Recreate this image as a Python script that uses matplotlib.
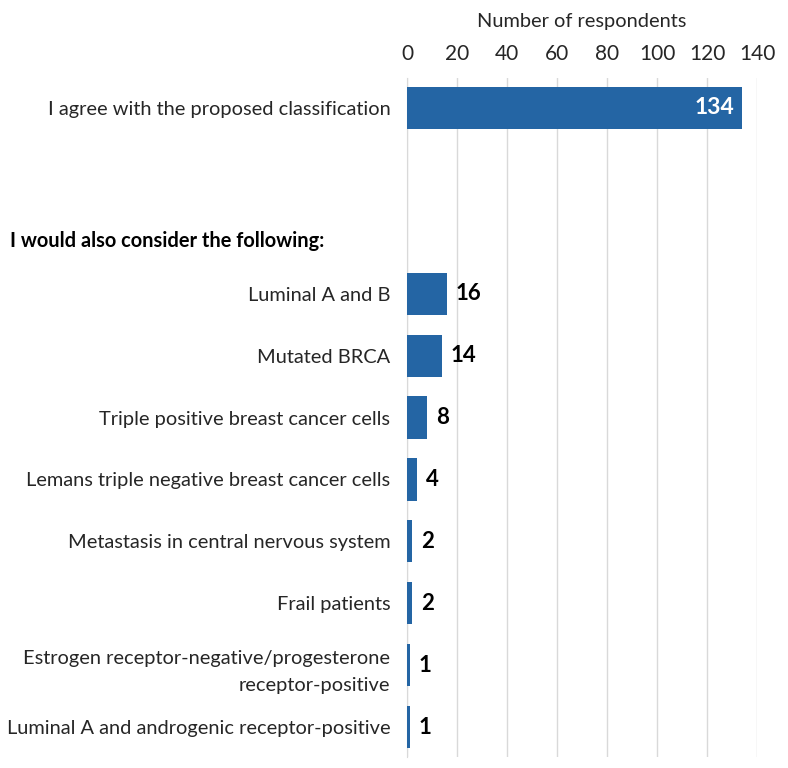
import matplotlib.pyplot as plt
import numpy as np

plt.rcParams['font.family'] = ['Lato', 'DejaVu Sans']

# Dados
categorias = [
    "I agree with the proposed classification",
    "Luminal A and B",
    "Mutated BRCA",
    "Triple positive breast cancer cells",
    "Lemans triple negative breast cancer cells",
    "Metastasis in central nervous system",
    "Frail patients",
    "Estrogen receptor-negative/progesterone\nreceptor-positive",
    "Luminal A and androgenic receptor-positive",
]
respondentes = [134, 16, 14, 8, 4, 2, 2, 1, 1]
cabecalho = "I would also consider the following:"
xticks = [0, 20, 40, 60, 80, 100, 120, 140]

cor = '#2465a4'

# posicao: primeira barra isolada, depois um espaco de duas linhas
pos = np.array([0] + list(range(3, 3 + len(categorias) - 1)))

fig = plt.figure(figsize=(7.88, 7.68), dpi=100)
ax = fig.add_axes([0.5165, 0.0143, 0.4442, 0.8841])

ax.barh(pos, respondentes, height=0.68, color=cor, zorder=3)

for p, v in zip(pos, respondentes):
    if v > 100:
        ax.text(v - 3, p, str(v), color='white', fontsize=16.5, fontweight='bold',
                ha='right', va='center', zorder=4)
    else:
        ax.text(v + 3.5, p, str(v), color='black', fontsize=16, fontweight='bold',
                ha='left', va='center', zorder=4)

ax.set_yticks(pos)
ax.set_yticklabels(categorias, fontsize=14.4, color='#262626', linespacing=1.7)
ax.set_ylim(10.48, -0.48)
ax.set_xlim(0, 140)
ax.set_xticks(xticks)
ax.xaxis.tick_top()
ax.xaxis.set_label_position('top')
ax.set_xlabel('Number of respondents', fontsize=14.4, color='#262626', labelpad=12)
ax.tick_params(axis='x', labelsize=15, colors='#262626', length=0, pad=10)
ax.tick_params(axis='y', length=0, pad=12)
ax.grid(axis='x', color='#d9d9d9', linewidth=1, zorder=0)
for s in ['top', 'right', 'bottom']:
    ax.spines[s].set_visible(False)
ax.spines['left'].set_color('#d9d9d9')

y_cab = ax.transData.transform((0, 2.15))[1] / fig.bbox.height
fig.text(10 / 788, y_cab, cabecalho, fontsize=14.4, fontweight='bold',
         ha='left', va='center', color='black')

fig.savefig('out.png', dpi=100)
